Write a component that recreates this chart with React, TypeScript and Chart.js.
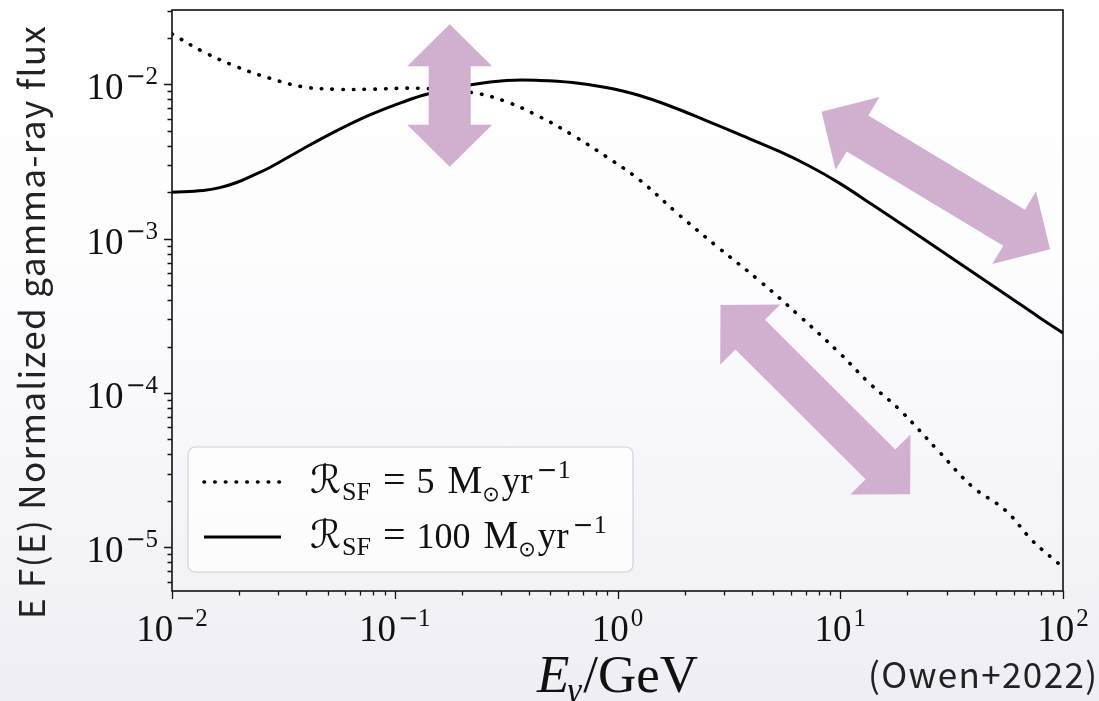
import React, { useEffect, useRef } from 'react';
import { Chart, registerables } from 'chart.js';

Chart.register(...registerables);

// ---- data ----
const seriesLabels = ['5', '100']; // star-formation rate in Msun/yr

const lowSfrEnergy = [0.01, 0.0138, 0.0195, 0.0275, 0.0386, 0.0547, 0.0773, 0.1294, 0.2239, 0.317, 0.447, 0.628, 0.889, 1.256, 1.897, 2.864, 4.34, 6.55, 9.91, 13.49, 18.41, 27.8, 39.2, 55.3, 72.6, 92.7, 100];
const lowSfrFlux = [0.0212, 0.01626, 0.013, 0.01094, 0.00964, 0.00929, 0.00929, 0.00942, 0.00883, 0.00771, 0.00617, 0.00469, 0.0034, 0.0024, 0.00142, 0.000865, 0.000533, 0.000316, 0.000182, 0.000116, 0.0000783, 0.0000416, 0.0000247, 0.0000173, 0.0000111, 0.00000815, 0.00000745];

const highSfrEnergy = [0.01, 0.0138, 0.0164, 0.0195, 0.0231, 0.0275, 0.0386, 0.0547, 0.0773, 0.1086, 0.1406, 0.2239, 0.317, 0.447, 0.628, 0.889, 1.256, 1.766, 2.5, 3.52, 5.33, 7.26, 9.91, 13.9, 19.7, 27.8, 39.2, 55.3, 78.0, 100];
const highSfrFlux = [0.002, 0.00205, 0.00214, 0.00231, 0.00257, 0.00289, 0.00381, 0.00499, 0.00633, 0.00767, 0.00865, 0.00997, 0.01059, 0.0106, 0.01028, 0.00953, 0.00846, 0.00713, 0.00582, 0.00473, 0.00367, 0.002955, 0.00229, 0.001663, 0.001189, 0.00085, 0.000607, 0.000435, 0.00031, 0.000245];

const xTickPowers = [-2, -1, 0, 1, 2];
const yTickPowers = [-5, -4, -3, -2];

// annotation arrows (double-headed), endpoints in data space
const arrowStartE = [0.1765, 8.24, 2.9];
const arrowStartF = [0.02449, 0.00664, 0.000372];
const arrowEndE = [0.1765, 87.5, 20.6];
const arrowEndF = [0.00292, 0.000853, 0.0000221];

const X_MIN = 0.01;
const X_MAX = 100;
const Y_MIN = 5.21e-6;
const Y_MAX = 0.0303;

const SERIF = "'Liberation Serif', 'DejaVu Serif', serif";
const SANS = "'Noto Sans CJK JP', 'Noto Sans', sans-serif";
const DSANS = "'DejaVu Sans', sans-serif";
const ARROW_COLOR = '#d0afcf';

type Seg = { t: string; size: number; dy?: number; italic?: boolean; family?: string; gap?: number };

function measureSegs(ctx: CanvasRenderingContext2D, segs: Seg[]) {
  let w = 0;
  for (const s of segs) {
    ctx.font = `${s.italic ? 'italic ' : ''}${s.size}px ${s.family || SERIF}`;
    w += ctx.measureText(s.t).width + (s.gap || 0);
  }
  return w;
}

function drawSegs(ctx: CanvasRenderingContext2D, segs: Seg[], x: number, y: number) {
  let cx = x;
  ctx.textAlign = 'left';
  ctx.textBaseline = 'alphabetic';
  for (const s of segs) {
    ctx.font = `${s.italic ? 'italic ' : ''}${s.size}px ${s.family || SERIF}`;
    ctx.fillText(s.t, cx, y + (s.dy || 0));
    cx += ctx.measureText(s.t).width + (s.gap || 0);
  }
}

function powSegs(p: number): Seg[] {
  const segs: Seg[] = [{ t: '10', size: 37, gap: 2 }];
  if (p < 0) {
    segs.push({ t: '\u2212', size: 24, dy: -15, family: DSANS, gap: 0 });
    segs.push({ t: String(-p), size: 25, dy: -15 });
  } else {
    segs.push({ t: String(p), size: 25, dy: -15 });
  }
  return segs;
}

function drawArrow(ctx: CanvasRenderingContext2D, x1: number, y1: number, x2: number, y2: number) {
  const shaftW = 42, headW = 85, headL = 42;
  const dx = x2 - x1, dy = y2 - y1;
  const len = Math.hypot(dx, dy);
  const ux = dx / len, uy = dy / len;
  const nx = -uy, ny = ux;
  const b1x = x1 + ux * headL, b1y = y1 + uy * headL;
  const b2x = x2 - ux * headL, b2y = y2 - uy * headL;
  const pts = [
    [x1, y1],
    [b1x + nx * headW / 2, b1y + ny * headW / 2],
    [b1x + nx * shaftW / 2, b1y + ny * shaftW / 2],
    [b2x + nx * shaftW / 2, b2y + ny * shaftW / 2],
    [b2x + nx * headW / 2, b2y + ny * headW / 2],
    [x2, y2],
    [b2x - nx * headW / 2, b2y - ny * headW / 2],
    [b2x - nx * shaftW / 2, b2y - ny * shaftW / 2],
    [b1x - nx * shaftW / 2, b1y - ny * shaftW / 2],
    [b1x - nx * headW / 2, b1y - ny * headW / 2],
  ];
  ctx.beginPath();
  ctx.moveTo(pts[0][0], pts[0][1]);
  for (let i = 1; i < pts.length; i++) ctx.lineTo(pts[i][0], pts[i][1]);
  ctx.closePath();
  ctx.fillStyle = ARROW_COLOR;
  ctx.fill();
}

function fitText(ctx: CanvasRenderingContext2D, text: string, font: string, target: number) {
  ctx.font = font;
  (ctx as any).letterSpacing = '0px';
  const w = ctx.measureText(text).width;
  const ls = Math.max(0, (target - w) / Math.max(1, text.length - 1));
  (ctx as any).letterSpacing = `${ls.toFixed(2)}px`;
  return ls;
}

const decorPlugin = {
  id: 'decor',
  afterDatasetsDraw(chart: any) {
    const ctx: CanvasRenderingContext2D = chart.ctx;
    const xs = chart.scales.x;
    const ys = chart.scales.y;
    const area = chart.chartArea;
    ctx.save();

    // arrows
    for (let i = 0; i < arrowStartE.length; i++) {
      drawArrow(
        ctx,
        xs.getPixelForValue(arrowStartE[i]),
        ys.getPixelForValue(arrowStartF[i]),
        xs.getPixelForValue(arrowEndE[i]),
        ys.getPixelForValue(arrowEndF[i])
      );
    }

    // frame
    ctx.strokeStyle = '#111';
    ctx.lineWidth = 1.6;
    ctx.strokeRect(area.left, area.top, area.right - area.left, area.bottom - area.top);

    // ticks
    ctx.lineWidth = 1.3;
    ctx.beginPath();
    for (let p = -3; p <= 2; p++) {
      for (let m = 1; m <= 9; m++) {
        const v = m * Math.pow(10, p);
        if (v < X_MIN * 0.999 || v > X_MAX * 1.001) continue;
        const px = Math.round(xs.getPixelForValue(v)) + 0.5;
        const L = m === 1 ? 8 : 4.5;
        ctx.moveTo(px, area.bottom);
        ctx.lineTo(px, area.bottom + L);
      }
    }
    for (let p = -7; p <= -1; p++) {
      for (let m = 1; m <= 9; m++) {
        const v = m * Math.pow(10, p);
        if (v < Y_MIN || v > Y_MAX) continue;
        const py = Math.round(ys.getPixelForValue(v)) + 0.5;
        const L = m === 1 ? 8 : 4.5;
        ctx.moveTo(area.left, py);
        ctx.lineTo(area.left - L, py);
      }
    }
    ctx.stroke();

    // tick labels
    ctx.fillStyle = '#111';
    for (const p of xTickPowers) {
      const segs = powSegs(p);
      const w = measureSegs(ctx, segs);
      const px = xs.getPixelForValue(Math.pow(10, p));
      drawSegs(ctx, segs, px - w / 2, area.bottom + 50);
    }
    for (const p of yTickPowers) {
      const segs = powSegs(p);
      const w = measureSegs(ctx, segs);
      const py = ys.getPixelForValue(Math.pow(10, p));
      drawSegs(ctx, segs, area.left - 14 - w, py + 15);
    }

    // x title
    const xt: Seg[] = [
      { t: 'E', size: 53, italic: true, gap: -2 },
      { t: '\u03b3', size: 35, italic: true, dy: 10, gap: 2 },
      { t: '/GeV', size: 53 },
    ];
    const xtw = measureSegs(ctx, xt);
    drawSegs(ctx, xt, (area.left + area.right) / 2 - xtw / 2, area.bottom + 101);

    // y title
    ctx.save();
    ctx.translate(32, 322);
    ctx.rotate(-Math.PI / 2);
    fitText(ctx, 'E F(E) Normalized gamma-ray flux', `35px ${SANS}`, 593);
    ctx.fillStyle = '#222';
    ctx.textAlign = 'center';
    ctx.textBaseline = 'middle';
    ctx.fillText('E F(E) Normalized gamma-ray flux', 0, 0);
    ctx.restore();

    // citation
    ctx.save();
    fitText(ctx, '(Owen+2022)', `35px ${SANS}`, 229);
    ctx.fillStyle = '#222';
    ctx.textAlign = 'left';
    ctx.textBaseline = 'alphabetic';
    ctx.fillText('(Owen+2022)', 868, 688);
    ctx.restore();
    (ctx as any).letterSpacing = '0px';

    // legend
    const lx = area.left + 16;
    const ly = area.bottom - 144;
    const lw = 445;
    const lh = 125;
    ctx.beginPath();
    ctx.roundRect(lx, ly, lw, lh, 7);
    ctx.fillStyle = 'rgba(255,255,255,0.75)';
    ctx.fill();
    ctx.strokeStyle = '#d2d2d2';
    ctx.lineWidth = 1.2;
    ctx.stroke();

    const ds = chart.data.datasets;
    for (let i = 0; i < ds.length; i++) {
      const yy = ly + 35 + i * 55;
      ctx.save();
      ctx.strokeStyle = ds[i].borderColor;
      ctx.lineWidth = ds[i].borderWidth;
      ctx.lineCap = ds[i].borderCapStyle || 'butt';
      ctx.setLineDash(ds[i].borderDash || []);
      ctx.beginPath();
      ctx.moveTo(lx + 16, yy);
      ctx.lineTo(lx + 93, yy);
      ctx.stroke();
      ctx.restore();
      ctx.fillStyle = '#111';
      const segs: Seg[] = [
        { t: '\u211b', size: 39, italic: true, family: "'DejaVu Serif', 'DejaVu Sans', serif", gap: 1 },
        { t: 'SF', size: 26, dy: 7, gap: 12 },
        { t: '=', size: 40, gap: 11 },
        { t: seriesLabels[i], size: 36, gap: 13 },
        { t: 'M', size: 39, gap: 0 },
        { t: '\u2299', size: 21, dy: 8, family: DSANS, gap: 2 },
        { t: 'yr', size: 37, gap: 4 },
        { t: '\u2212', size: 25, dy: -15, family: DSANS, gap: 0 },
        { t: '1', size: 26, dy: -15 },
      ];
      drawSegs(ctx, segs, lx + 122, yy + 11);
    }

    ctx.restore();
  },
};

export default function App() {
  const ref = useRef<HTMLCanvasElement | null>(null);

  useEffect(() => {
    document.body.style.margin = '0';
    const canvas = ref.current;
    if (!canvas) return;
    const chart = new Chart(canvas, {
      type: 'line',
      data: {
        datasets: [
          {
            label: 'R_SF = ' + seriesLabels[0],
            data: lowSfrEnergy.map((e, i) => ({ x: e, y: lowSfrFlux[i] })),
            borderColor: '#000',
            borderWidth: 3.6,
            borderDash: [0.5, 10.2],
            borderCapStyle: 'round',
            pointRadius: 0,
            tension: 0.4,
            fill: false,
          },
          {
            label: 'R_SF = ' + seriesLabels[1],
            data: highSfrEnergy.map((e, i) => ({ x: e, y: highSfrFlux[i] })),
            borderColor: '#000',
            borderWidth: 3,
            borderCapStyle: 'butt',
            pointRadius: 0,
            tension: 0.4,
            fill: false,
          },
        ],
      } as any,
      options: {
        animation: false,
        responsive: false,
        devicePixelRatio: 1,
        parsing: false as any,
        layout: { padding: { top: 10, right: 36, left: 0, bottom: 0 } },
        plugins: { legend: { display: false }, tooltip: { enabled: false } },
        events: [],
        scales: {
          x: {
            type: 'logarithmic',
            min: X_MIN,
            max: X_MAX,
            grid: { display: false },
            border: { display: false },
            ticks: { display: false },
            afterFit: (s: any) => { s.height = 110; },
          },
          y: {
            type: 'logarithmic',
            min: Y_MIN,
            max: Y_MAX,
            grid: { display: false },
            border: { display: false },
            ticks: { display: false },
            afterFit: (s: any) => { s.width = 172; },
          },
        },
      } as any,
      plugins: [decorPlugin],
    });
    return () => chart.destroy();
  }, []);

  return (
    <div
      style={{
        position: 'fixed',
        left: 0,
        top: 0,
        width: 1099,
        height: 701,
        background: 'linear-gradient(to bottom, #ffffff 0%, #fdfdfe 35%, #f7f6fa 65%, #efeef4 100%)',
      }}
    >
      <canvas ref={ref} width={1099} height={701} style={{ display: 'block' }} />
    </div>
  );
}
